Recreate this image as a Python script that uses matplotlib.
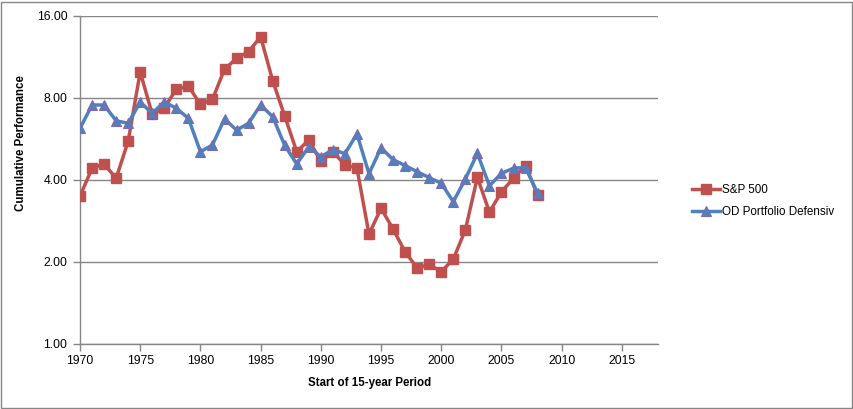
import numpy as np
from matplotlib import pyplot as plt
from matplotlib.patches import Rectangle
from matplotlib.ticker import FixedLocator, FuncFormatter, NullLocator

# === DATA ===
years = list(range(1970, 2009))

sp500 = [3.49, 4.42, 4.58, 4.06, 5.55, 9.97, 6.97, 7.37, 8.61, 8.85,
         7.58, 7.91, 10.2, 11.19, 11.83, 13.43, 9.26, 6.87, 5.08, 5.61,
         4.68, 5.08, 4.55, 4.42, 2.53, 3.15, 2.64, 2.18, 1.90, 1.96,
         1.84, 2.05, 2.62, 4.09, 3.05, 3.62, 4.06, 4.52, 3.52]

od_defensiv = [6.19, 7.54, 7.54, 6.60, 6.46, 7.73, 7.03, 7.75, 7.33, 6.74,
               5.08, 5.38, 6.70, 6.10, 6.46, 7.54, 6.83, 5.36, 4.58, 5.30,
               4.87, 5.17, 5.00, 5.90, 4.22, 5.25, 4.75, 4.52, 4.29, 4.08,
               3.89, 3.33, 4.03, 5.01, 3.81, 4.23, 4.42, 4.44, 3.58]

y_ticks = [1, 2, 4, 8, 16]
x_ticks = list(range(1970, 2020, 5))

series_names = ['S&P 500', 'OD Portfolio Defensiv']

# === FIGURE ===
W, H = 854, 409
fig = plt.figure(figsize=(W / 100, H / 100), dpi=100)
plt.rcParams['font.family'] = ['Liberation Sans', 'DejaVu Sans']

ax = fig.add_axes([80 / W, 1 - 344 / H, 578 / W, 328 / H])

red = '#C0504D'
blue = '#4F81BD'
grid_c = '#868686'

ax.plot(years, sp500, color=red, linewidth=2.5, marker='s', markersize=6.5,
        markerfacecolor=red, markeredgecolor=red, label=series_names[0], zorder=3)
ax.plot(years, od_defensiv, color=blue, linewidth=2.5, marker='^', markersize=7,
        markerfacecolor=blue, markeredgecolor='#7E6AAE', markeredgewidth=0.8,
        label=series_names[1], zorder=3)

ax.set_yscale('log', base=2)
ax.set_ylim(1, 16)
ax.set_xlim(1970, 2018)
ax.yaxis.set_major_locator(FixedLocator(y_ticks))
ax.yaxis.set_minor_locator(NullLocator())
ax.yaxis.set_major_formatter(FuncFormatter(lambda v, p: f'{v:.2f}'))
ax.set_xticks(x_ticks)

ax.grid(axis='y', color=grid_c, linewidth=1)
ax.set_axisbelow(True)
for side in ['top', 'right']:
    ax.spines[side].set_visible(False)
for side in ['left', 'bottom']:
    ax.spines[side].set_color(grid_c)
    ax.spines[side].set_linewidth(1)

ax.tick_params(axis='both', direction='out', length=5, width=1, color=grid_c,
               labelsize=8.8, labelcolor='black')
ax.tick_params(axis='y', pad=4)
ax.tick_params(axis='x', pad=3)

# axis titles
fig.text(21 / W, 1 - 143 / H, 'Cumulative Performance', rotation=90,
         ha='center', va='center', fontsize=8.3, fontweight='bold')
fig.text(370 / W, 1 - 383 / H, 'Start of 15-year Period',
         ha='center', va='center', fontsize=8.3, fontweight='bold')

# legend
fig.legend(loc='upper left', bbox_to_anchor=(687 / W, 1 - 179 / H), frameon=False,
           fontsize=8.4, handlelength=2.4, handletextpad=0.2, labelspacing=0.9,
           borderaxespad=0)

# chart border
fig.patches.append(Rectangle((1 / W, 1 / H), 1 - 3 / W, 1 - 3 / H,
                             transform=fig.transFigure, fill=False,
                             edgecolor=grid_c, linewidth=1))

fig.savefig('out.png', dpi=100)
